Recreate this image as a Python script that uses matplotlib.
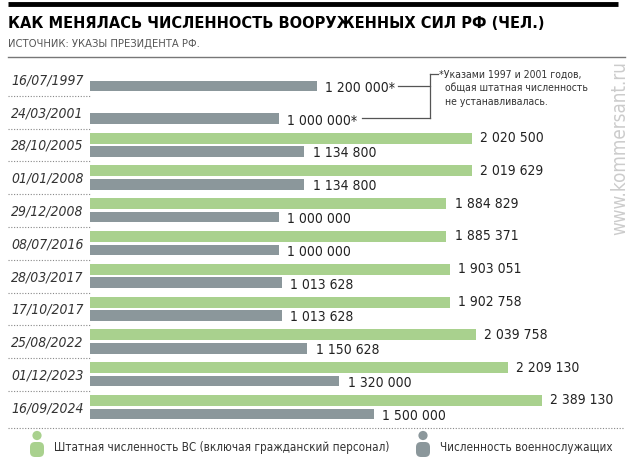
import matplotlib
matplotlib.use("Agg")
import matplotlib.pyplot as plt
from matplotlib.patches import Circle, FancyBboxPatch

plt.rcParams['font.family'] = ['DejaVu Sans']
plt.rcParams['font.stretch'] = 'condensed'

dates = ['16/07/1997', '24/03/2001', '28/10/2005', '01/01/2008', '29/12/2008',
         '08/07/2016', '28/03/2017', '17/10/2017', '25/08/2022', '01/12/2023',
         '16/09/2024']
# staff total incl. civilians (none set in 1997 and 2001)
staff = [None, None, 2020500, 2019629, 1884829, 1885371, 1903051, 1902758,
         2039758, 2209130, 2389130]
# military personnel
military = [1200000, 1000000, 1134800, 1134800, 1000000, 1000000, 1013628,
            1013628, 1150628, 1320000, 1500000]

title = 'КАК МЕНЯЛАСЬ ЧИСЛЕННОСТЬ ВООРУЖЕННЫХ СИЛ РФ (ЧЕЛ.)'
subtitle = 'ИСТОЧНИК: УКАЗЫ ПРЕЗИДЕНТА РФ.'
note = '*Указами 1997 и 2001 годов,\n  общая штатная численность\n  не устанавливалась.'
legend_labels = ['Штатная численность ВС (включая гражданский персонал)',
                 'Численность военнослужащих']

GREEN = '#a9d18e'
GRAY = '#8b979b'
TXT = '#222222'

def fmt(v):
    return f'{v:,}'.replace(',', ' ')

W, H = 640, 460
fig = plt.figure(figsize=(6.4, 4.6), dpi=100)

# pixel-space layer for decorations
ax0 = fig.add_axes([0, 0, 1, 1])
ax0.set_xlim(0, W)
ax0.set_ylim(H, 0)
ax0.axis('off')

ax0.plot([8, 618], [5, 5], color='black', lw=3.5, solid_capstyle='butt')
ax0.text(8, 24, title, fontsize=11.7, fontweight='bold', color='black', va='center')
ax0.text(8, 44, subtitle, fontsize=8, color='#555555', va='center')
ax0.plot([8, 625], [58, 58], color='#777777', lw=1)

top, pitch = 64, 32.8
n = len(dates)
for k, d in enumerate(dates):
    yc = top + pitch * (k + 0.5)
    ax0.text(11, yc, d, fontsize=10, style='italic', color='#333333', va='center')
    sep = top + pitch * (k + 1)
    if k < n - 1:
        ax0.plot([8, 90], [sep, sep], color='#888888', lw=0.8, ls=(0, (1, 1.5)))
    else:
        ax0.plot([8, 623], [sep + 4, sep + 4], color='#888888', lw=0.8, ls=(0, (1, 1.5)))

# bracket for the footnote
ax0.plot([398, 430], [87, 87], color='#555555', lw=0.9)
ax0.plot([362, 430], [119, 119], color='#555555', lw=0.9)
ax0.plot([430, 430], [75, 119], color='#555555', lw=0.9)
ax0.plot([430, 438], [75, 75], color='#555555', lw=0.9)
ax0.text(439, 70, note, fontsize=7.5, color='#333333', va='top', linespacing=1.45)

ax0.text(620, 148, 'www.kommersant.ru', rotation=90, fontsize=13.5,
         color='#cccccc', ha='center', va='center')

# legend with person icons
for x0, col, lab in [(30, GREEN, legend_labels[0]), (416, GRAY, legend_labels[1])]:
    ax0.add_patch(Circle((x0 + 7, 436.5), 4.6, color=col, lw=0))
    ax0.add_patch(FancyBboxPatch((x0, 443), 14, 15,
                                 boxstyle='round,pad=0,rounding_size=5',
                                 color=col, lw=0))
    ax0.text(x0 + 24, 448, lab, fontsize=8.4, color='#333333', va='center')

# bars layer: x in people, y in row units
px = 0.000189  # pixels per person
left = 90
ax = fig.add_axes([left / W, 1 - (top + pitch * n) / H,
                   (W - left) / W, pitch * n / H])
ax.set_xlim(0, (W - left) / px)
ax.set_ylim(n, 0)
ax.axis('off')
ax.patch.set_alpha(0)

for k in range(n):
    if staff[k] is not None:
        ax.barh(k + 0.5 - 7 / pitch, staff[k], height=11 / pitch,
                color=GREEN, lw=0)
        ax.annotate(fmt(staff[k]), (staff[k], k + 0.5 - 8 / pitch),
                    xytext=(6, 0), textcoords='offset points',
                    fontsize=10, color=TXT, va='center')
    yg = k + 0.5 + 6.5 / pitch
    ax.barh(yg, military[k], height=10.5 / pitch, color=GRAY, lw=0)
    lab = fmt(military[k]) + ('*' if staff[k] is None else '')
    ax.annotate(lab, (military[k], yg + 1 / pitch), xytext=(6, 0),
                textcoords='offset points', fontsize=10, color=TXT,
                va='center')

fig.savefig('out.png', dpi=100)
